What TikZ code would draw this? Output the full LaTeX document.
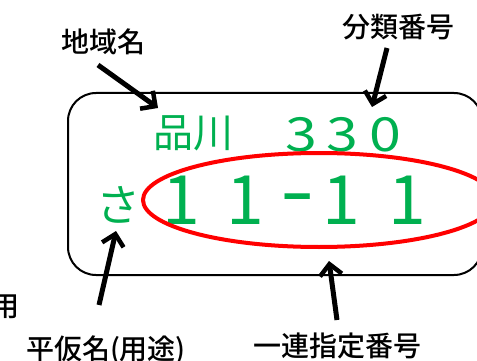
\documentclass[tikz,border=0pt]{standalone}
\usepackage{fontspec}
\newfontfamily\jpfont{Noto Sans CJK JP}
\newfontfamily\jpmed{Noto Sans CJK JP Medium}
\usetikzlibrary{arrows.meta}
\definecolor{plategreen}{RGB}{0,176,80}
\begin{document}
\begin{tikzpicture}[x=1pt,y=-1pt,
  lbl/.style={font=\jpmed\fontsize{28}{28}\selectfont, text=black, inner sep=0pt},
  gr/.style={text=plategreen, inner sep=0pt},
  big/.style={gr, anchor=base, font=\jpfont\fontsize{68}{68}\selectfont},
  mid/.style={gr, anchor=base, xscale=1.22, font=\jpfont\fontsize{47}{47}\selectfont},
  pointer/.style={line width=5pt, -{Straight Barb[length=11pt,width=22pt,line width=4.5pt]}}]
\useasboundingbox (0,0) rectangle (477,361);
\clip (0,0) rectangle (477,361);
% plate
\draw[line width=2pt, rounded corners=28pt] (68,93) rectangle (482,275);
% texts
\node[gr, font=\jpfont\fontsize{40}{40}\selectfont] (shina) at (193,133) {品川};
\node[mid] (c1) at (301,151) {3};
\node[mid] (c2) at (342,151) {3};
\node[mid] (c3) at (385,151) {0};
\node[gr, font=\jpfont\fontsize{44}{44}\selectfont] (sa) at (118,205) {さ};
\node[big] (n1) at (181,224) {1};
\node[big] (n2) at (245,224) {1};
\node[big, xscale=1.45, yscale=1.2] (n3) at (298,219) {-};
\node[big] (n4) at (341,224) {1};
\node[big] (n5) at (407,224) {1};
% red ellipse
\draw[red, line width=4pt] (319,200) ellipse [x radius=176, y radius=47];
% labels
\node[lbl] (chiiki) at (103,42) {地域名};
\node[lbl] (bunrui) at (398,27) {分類番号};
\node[lbl, anchor=east] (you) at (20,307) {用};
\node[lbl] (hira) at (106,350) {平仮名(用途)};
\node[lbl] (ichiren) at (337,346) {一連指定番号};
% arrows
\coordinate (a1s) at (98,65); \coordinate (a1e) at (158,108);
\coordinate (a2s) at (387,48); \coordinate (a2e) at (372,107);
\coordinate (a3s) at (99,305); \coordinate (a3e) at (116,231);
\coordinate (a4s) at (337,320); \coordinate (a4e) at (329,261);
\draw[pointer] (a1s) -- (a1e);
\draw[pointer] (a2s) -- (a2e);
\draw[pointer] (a3s) -- (a3e);
\draw[pointer] (a4s) -- (a4e);
\end{tikzpicture}
\end{document}
